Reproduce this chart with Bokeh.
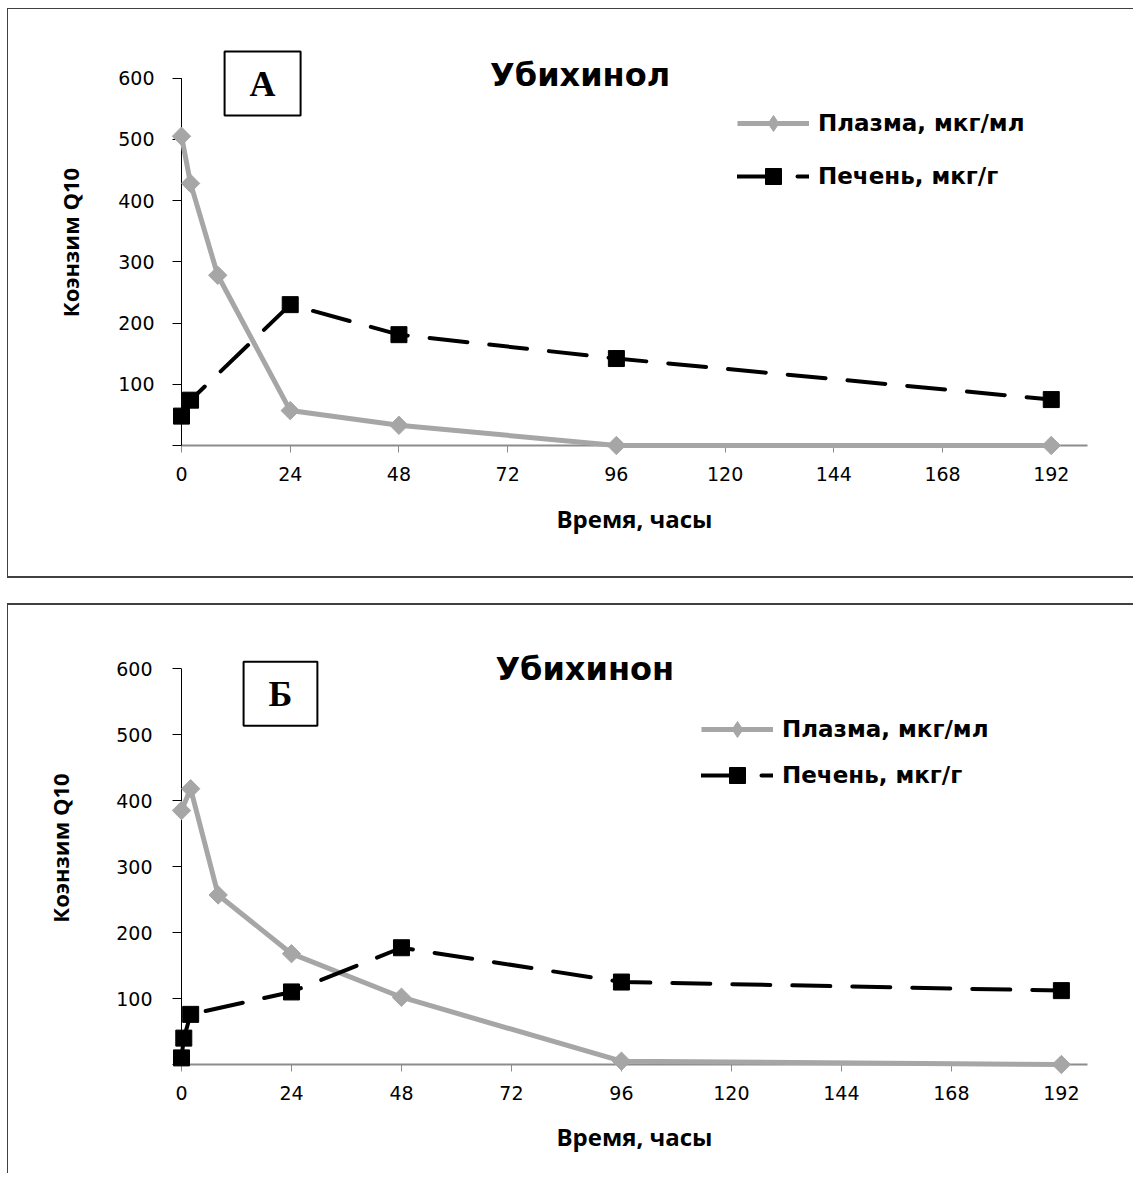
import math
from bokeh.plotting import figure
from bokeh.models import FixedTicker, Label, Legend, LegendItem
from bokeh.layouts import column
from bokeh.embed import file_html
from bokeh.resources import INLINE

# ---------------- data ----------------
hour_ticks = [0, 24, 48, 72, 96, 120, 144, 168, 192]
conc_ticks = [0, 100, 200, 300, 400, 500, 600]
conc_max = 600

# Panel A – Убихинол
a_plasma_t = [0, 2, 8, 24, 48, 96, 192]
a_plasma = [505, 428, 278, 57, 33, 0, 0]
a_liver_t = [0, 2, 24, 48, 96, 192]
a_liver = [48, 74, 230, 181, 142, 75]

# Panel B – Убихинон
b_plasma_t = [0, 2, 8, 24, 48, 96, 192]
b_plasma = [385, 418, 257, 168, 102, 5, 0]
b_liver_t = [0, 0.5, 2, 24, 48, 96, 192]
b_liver = [10, 40, 76, 110, 177, 125, 112]

plasma_label = "Плазма, мкг/мл"
liver_label = "Печень, мкг/г"
x_title = "Время, часы"
y_title = "Коэнзим Q10"

GRAY = "#A6A6A6"
AXGRAY = "#8C8C8C"
NAN = float("nan")


def build(title, letter, pt, pv, lt, lv, height, borders, x_end, y_end, lay):
    p = figure(width=1126, height=height, output_backend="svg", toolbar_location=None,
               x_range=(0, x_end), y_range=(0, y_end),
               min_border_left=borders[0], min_border_right=borders[1],
               min_border_top=borders[2], min_border_bottom=borders[3])
    p.grid.visible = False
    p.outline_line_color = None
    p.background_fill_color = "white"
    p.border_fill_color = "white"

    # y axis (line drawn only up to 600 below)
    ya = p.yaxis[0]
    ya.ticker = FixedTicker(ticks=conc_ticks)
    ya.major_label_overrides = {0: ""}
    ya.major_tick_out = 9
    ya.major_tick_in = 0
    ya.minor_tick_line_color = None
    ya.axis_line_color = None
    ya.major_tick_line_color = "black"
    ya.major_label_text_font = "DejaVu Sans"
    ya.major_label_text_font_size = "19px"
    ya.major_label_text_color = "black"
    ya.major_label_standoff = lay["ystand"]
    ya.axis_label = y_title
    ya.axis_label_text_font = "Open Sans"
    ya.axis_label_text_font_style = "bold"
    ya.axis_label_text_font_size = "22px"
    ya.axis_label_text_color = "black"
    ya.axis_label_standoff = lay["ylabstand"]
    p.segment(x0=[0], y0=[0], x1=[0], y1=[conc_max], line_color="black",
              line_width=1, level="overlay")

    # x axis
    xa = p.xaxis[0]
    xa.ticker = FixedTicker(ticks=hour_ticks)
    xa.major_tick_out = 7
    xa.major_tick_in = 0
    xa.minor_tick_line_color = None
    xa.axis_line_color = AXGRAY
    xa.axis_line_width = 2
    xa.major_tick_line_color = AXGRAY
    xa.major_label_text_font = "DejaVu Sans"
    xa.major_label_text_font_size = "19px"
    xa.major_label_text_color = "black"
    xa.major_label_standoff = 14
    xa.axis_label = x_title
    xa.axis_label_text_font = "Open Sans"
    xa.axis_label_text_font_style = "bold"
    xa.axis_label_text_font_size = "24px"
    xa.axis_label_text_color = "black"
    xa.axis_label_standoff = lay["xlabstand"]

    # plasma
    l1 = p.line(pt, pv, line_color=GRAY, line_width=5, level="overlay")
    p.scatter(pt, pv, marker="square", angle=math.pi / 4, size=13,
              fill_color=GRAY, line_color=GRAY, level="overlay")
    leg1 = p.scatter(x=[NAN], y=[NAN], marker="diamond", size=16,
                     fill_color=GRAY, line_color=GRAY)
    # liver
    l2 = p.line(lt, lv, line_color="black", line_width=4, line_dash="38 22",
                line_cap="round", level="overlay")
    s2 = p.scatter(lt, lv, marker="square", size=16, fill_color="black",
                   line_color="black", level="overlay")

    legend = Legend(items=[LegendItem(label=plasma_label, renderers=[l1, leg1]),
                           LegendItem(label=liver_label, renderers=[l2, s2])],
                    location=lay["legloc"], border_line_color=None,
                    background_fill_alpha=0, padding=0, margin=0,
                    glyph_width=72, glyph_height=40, label_standoff=9,
                    spacing=lay["legspace"], level="overlay",
                    label_text_font="DejaVu Sans", label_text_font_style="bold",
                    label_text_font_size="23px", label_text_color="black")
    p.add_layout(legend)

    p.add_layout(Label(x=88, y=lay["title_y"], text=title, text_align="center",
                       text_baseline="middle", text_font="DejaVu Sans",
                       text_font_style="bold", text_font_size="32px",
                       text_color="black"))
    p.add_layout(Label(x=lay["box"][0], y=lay["box"][1], text=letter,
                       text_align="center", text_baseline="middle",
                       text_font="Liberation Serif", text_font_style="bold",
                       text_font_size="36px", text_color="black",
                       background_fill_color="white",
                       border_line_color="black", border_line_width=2,
                       padding=dict(left=25, right=25, top=12, bottom=12)))
    return p


pA = build("Убихинол", "А", a_plasma_t, a_plasma, a_liver_t, a_liver,
           570, (173, 47, 30, 134), 200, 663,
           dict(ystand=18, ylabstand=30, xlabstand=18, legloc=(556, 249),
                legspace=13, title_y=605, box=(17.9, 591)))
pA.styles = {"border-left": "1.5px solid #404040", "border-top": "1.5px solid #404040",
             "border-bottom": "2px solid #404040",
             "margin-left": "7px", "margin-top": "8px"}

pB = build("Убихинон", "Б", b_plasma_t, b_plasma, b_liver_t, b_liver,
           570, (173, 47, 26, 111), 197.7, 656.4,
           dict(ystand=20, ylabstand=38, xlabstand=17, legloc=(520, 269),
                legspace=6, title_y=599, box=(21.6, 562)))
pB.styles = {"border-left": "1.5px solid #404040", "border-top": "2px solid #404040",
             "margin-left": "7px"}

layout = column(pA, pB, spacing=25)
open("out.html", "w").write(file_html(layout, INLINE))
